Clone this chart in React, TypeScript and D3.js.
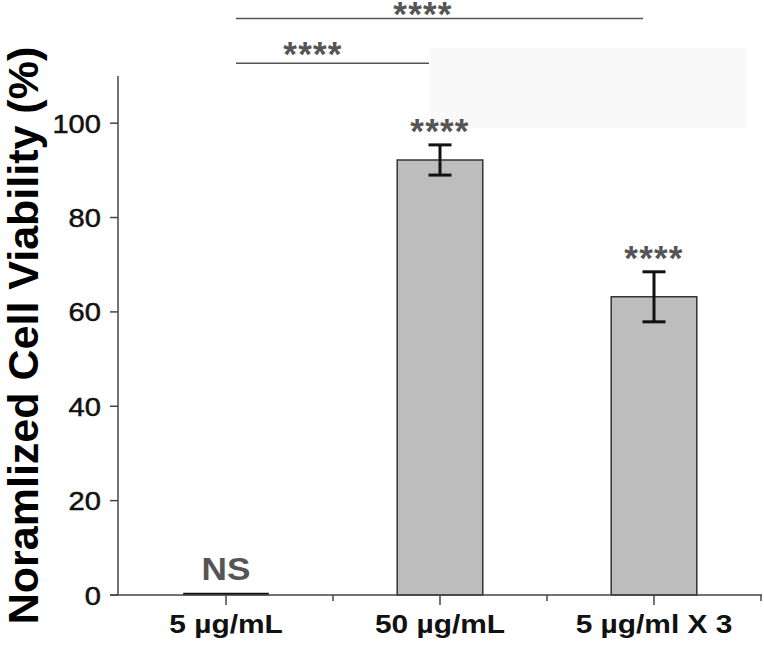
import React from "react";
import * as d3 from "d3";

const categories = ["5 µg/mL", "50 µg/mL", "5 µg/ml X 3"];
const values = [0, 92.2, 63.2];
const errors = [0, 3.2, 5.3];
const barMarks = ["NS", "****", "****"];
const yTicks = [0, 20, 40, 60, 80, 100];
// significance brackets: [from index, to index, level value]
const brackets = [
  { from: 0, to: 2, level: 122.2, mark: "****", markX: 423, dy: 8 },
  { from: 0, to: 1, level: 112.7, mark: "****", markX: 313, dy: 3 },
];

const W = 764;
const H = 645;

function SText(props: {
  x: number;
  y: number;
  sx?: number;
  anchor?: string;
  size: number;
  bold?: boolean;
  fill: string;
  stroke?: number;
  spacing?: number;
  children: React.ReactNode;
}) {
  const { x, y, sx = 1, anchor = "middle", size, bold, fill, stroke, spacing } = props;
  return (
    <g transform={`translate(${x},${y}) scale(${sx},1)`}>
      <text
        x={0}
        y={0}
        textAnchor={anchor as any}
        fontSize={size}
        fontWeight={bold ? "bold" : "normal"}
        fill={fill}
        stroke={stroke ? fill : undefined}
        strokeWidth={stroke}
        letterSpacing={spacing}
      >
        {props.children}
      </text>
    </g>
  );
}

export default function App() {
  const x = d3
    .scaleBand<string>()
    .domain(categories)
    .range([119, 761])
    .paddingInner(0.6)
    .paddingOuter(0.3);
  const y = d3.scaleLinear().domain([0, 110]).range([595, 76]);
  const step = x.step();
  const bw = x.bandwidth();
  const x0 = 119;
  const axisColor = "#444";
  const font = "'Liberation Sans', Arial, sans-serif";
  const starColor = "#555";

  return (
    <svg
      width={W}
      height={H}
      style={{ position: "absolute", left: 0, top: 0, background: "#fff" }}
      fontFamily={font}
    >
      <rect x={430} y={48} width={316} height={80} fill="#f9f9f9" />

      {/* bars */}
      {categories.map((c, i) => {
        const bx = x(c)!;
        const off = values[i] === 0 ? 1 : 0;
        const yt = y(values[i]) - off;
        const yb = y(0) - off;
        return (
          <path
            key={c}
            d={`M${bx},${yb}V${yt}H${bx + bw}V${yb}Z`}
            fill="#bdbdbd"
            stroke={values[i] === 0 ? "#111" : "#333"}
            strokeWidth={values[i] === 0 ? 2.5 : 1.5}
          />
        );
      })}

      {/* error bars */}
      {categories.map((c, i) => {
        if (errors[i] === 0) return null;
        const cx = x(c)! + bw / 2;
        const hi = y(values[i] + errors[i]);
        const lo = y(values[i] - errors[i]);
        return (
          <g key={"e" + c} stroke="#111" strokeWidth={3}>
            <line x1={cx} x2={cx} y1={hi} y2={lo} />
            <line x1={cx - 11.5} x2={cx + 11.5} y1={hi} y2={hi} />
            <line x1={cx - 11.5} x2={cx + 11.5} y1={lo} y2={lo} />
          </g>
        );
      })}

      {/* bar marks */}
      {categories.map((c, i) => {
        const cx = x(c)! + bw / 2;
        if (barMarks[i] === "NS") {
          return (
            <SText key={"m" + c} x={cx} y={y(values[i]) - 15} sx={1.1} size={32} bold fill={starColor}>
              NS
            </SText>
          );
        }
        return (
          <SText key={"m" + c} x={cx} y={y(values[i] + errors[i]) - 2} size={35} bold fill={starColor} spacing={1.2}>
            {barMarks[i]}
          </SText>
        );
      })}

      {/* brackets */}
      {brackets.map((b, k) => {
        const xa = x(categories[b.from])! + bw / 2 + 10;
        const xb = x(categories[b.to])! + bw / 2 - 11;
        const yy = y(b.level);
        return (
          <g key={"b" + k}>
            <line x1={xa} x2={xb} y1={yy} y2={yy} stroke="#555" strokeWidth={1.5} />
            <SText x={b.markX} y={yy + b.dy} size={35} bold fill={starColor} spacing={1.2}>
              {b.mark}
            </SText>
          </g>
        );
      })}

      {/* y axis */}
      <line x1={118} x2={118} y1={y(0)} y2={76} stroke={axisColor} strokeWidth={1.5} />
      {yTicks.map((t) => (
        <g key={"yt" + t}>
          <line x1={110} x2={118} y1={y(t)} y2={y(t)} stroke={axisColor} strokeWidth={1.5} />
          <SText x={101} y={y(t) + 9.5} sx={1.12} anchor="end" size={26} fill="#111" stroke={0.5}>
            {t}
          </SText>
        </g>
      ))}

      {/* x axis */}
      <line x1={110} x2={762} y1={y(0)} y2={y(0)} stroke={axisColor} strokeWidth={1.5} />
      {categories.map((c, i) => {
        const cx = x(c)! + bw / 2;
        const bx = x0 + step * (i + 1);
        return (
          <g key={"xt" + c}>
            <line x1={cx} x2={cx} y1={y(0)} y2={y(0) + 10} stroke={axisColor} strokeWidth={1.5} />
            <line x1={bx} x2={bx} y1={y(0)} y2={y(0) + 6} stroke={axisColor} strokeWidth={1.5} />
            <SText x={cx} y={633} sx={1.15} size={26} bold fill="#111">
              {c}
            </SText>
          </g>
        );
      })}

      {/* y label */}
      <text
        transform={`translate(38,${(43 + 628) / 2}) rotate(-90)`}
        textAnchor="middle"
        fontSize={43}
        fontWeight="bold"
        fill="#000"
      >
        Noramlized Cell Viability (%)
      </text>
    </svg>
  );
}
